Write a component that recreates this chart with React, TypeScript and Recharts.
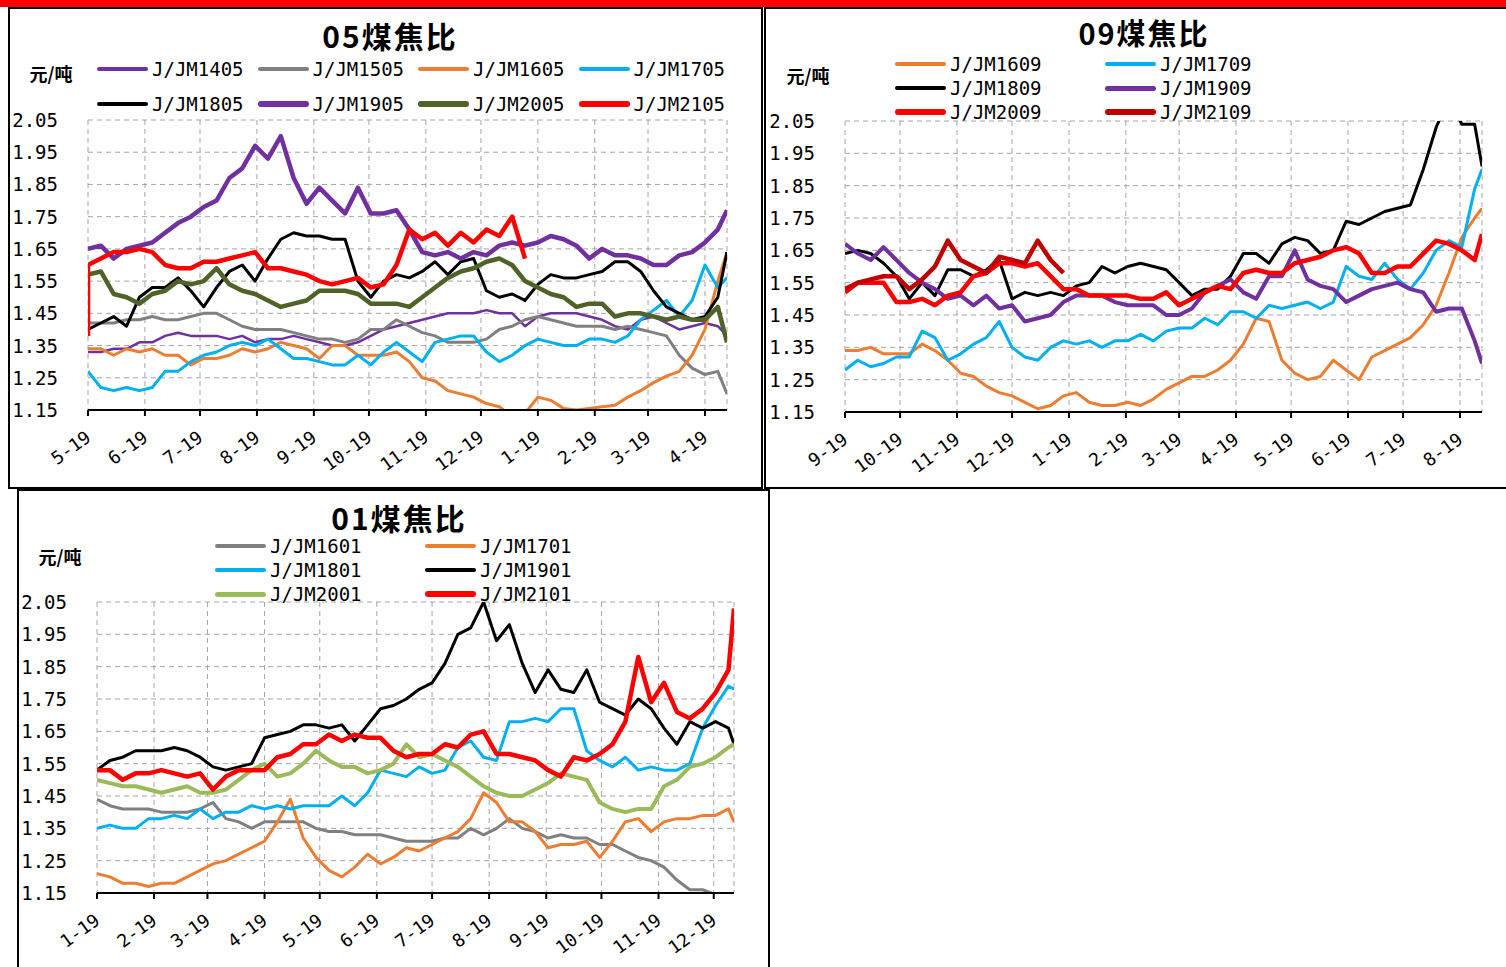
import React from "react";
import { LineChart, Line, XAxis, YAxis, CartesianGrid } from "recharts";

const MONO = "'DejaVu Sans Mono', monospace";
const CJK = "'Noto Sans CJK SC', sans-serif";

const Y_TICKS = [1.15, 1.25, 1.35, 1.45, 1.55, 1.65, 1.75, 1.85, 1.95, 2.05];

// ---------- 05 contracts (weekly samples from 5-19) ----------
const TICKS_05 = [0, 31, 61, 92, 123, 153, 184, 214, 245, 276, 305, 336];
const LABELS_05 = ["5-19", "6-19", "7-19", "8-19", "9-19", "10-19", "11-19", "12-19", "1-19", "2-19", "3-19", "4-19"];
const DAYS_05 = Array.from({ length: 50 }, (_, i) => i * 7).concat(348);

const JM1405 = [1.33, 1.33, 1.34, 1.34, 1.36, 1.36, 1.38, 1.39, 1.38, 1.38, 1.38, 1.37, 1.38, 1.36, 1.37, 1.37, 1.38, 1.37, 1.36, 1.35, 1.35, 1.36, 1.38, 1.4, 1.41, 1.42, 1.43, 1.44, 1.45, 1.45, 1.45, 1.46, 1.45, 1.45, 1.41, 1.44, 1.45, 1.45, 1.45, 1.44, 1.43, 1.41, 1.4, 1.43, 1.44, 1.42, 1.4, 1.41, 1.42, 1.41, 1.38];
const JM1505 = [1.42, 1.42, 1.42, 1.43, 1.43, 1.44, 1.43, 1.43, 1.44, 1.45, 1.45, 1.43, 1.41, 1.4, 1.4, 1.4, 1.39, 1.38, 1.37, 1.37, 1.36, 1.37, 1.4, 1.4, 1.43, 1.41, 1.39, 1.38, 1.36, 1.36, 1.36, 1.37, 1.4, 1.41, 1.43, 1.44, 1.43, 1.42, 1.41, 1.41, 1.41, 1.4, 1.41, 1.4, 1.39, 1.38, 1.32, 1.28, 1.26, 1.27, 1.2];
const JM1605 = [1.34, 1.34, 1.32, 1.34, 1.33, 1.34, 1.32, 1.32, 1.29, 1.31, 1.31, 1.32, 1.34, 1.33, 1.34, 1.36, 1.35, 1.34, 1.31, 1.35, 1.35, 1.32, 1.32, 1.32, 1.33, 1.3, 1.25, 1.24, 1.21, 1.2, 1.19, 1.17, 1.16, 1.13, 1.14, 1.19, 1.18, 1.155, 1.15, 1.155, 1.16, 1.165, 1.19, 1.21, 1.235, 1.255, 1.27, 1.32, 1.4, 1.55, 1.64];
const JM1705 = [1.27, 1.22, 1.21, 1.22, 1.21, 1.22, 1.27, 1.27, 1.3, 1.32, 1.33, 1.35, 1.36, 1.35, 1.37, 1.34, 1.31, 1.31, 1.3, 1.29, 1.29, 1.32, 1.29, 1.33, 1.36, 1.33, 1.3, 1.36, 1.37, 1.38, 1.38, 1.33, 1.3, 1.32, 1.35, 1.37, 1.36, 1.35, 1.35, 1.37, 1.37, 1.36, 1.38, 1.43, 1.46, 1.49, 1.44, 1.49, 1.6, 1.53, 1.56];
const JM1805 = [1.4, 1.42, 1.44, 1.41, 1.5, 1.53, 1.53, 1.56, 1.52, 1.47, 1.53, 1.58, 1.6, 1.55, 1.62, 1.68, 1.7, 1.69, 1.69, 1.68, 1.68, 1.55, 1.5, 1.55, 1.57, 1.56, 1.58, 1.61, 1.57, 1.61, 1.62, 1.52, 1.5, 1.51, 1.49, 1.54, 1.57, 1.56, 1.56, 1.57, 1.58, 1.61, 1.61, 1.58, 1.52, 1.47, 1.45, 1.43, 1.44, 1.5, 1.64];
const JM1905 = [1.65, 1.66, 1.62, 1.65, 1.66, 1.67, 1.7, 1.73, 1.75, 1.78, 1.8, 1.87, 1.9, 1.97, 1.93, 2.0, 1.87, 1.79, 1.84, 1.8, 1.76, 1.84, 1.76, 1.76, 1.77, 1.71, 1.64, 1.63, 1.64, 1.62, 1.64, 1.63, 1.66, 1.67, 1.66, 1.67, 1.69, 1.68, 1.66, 1.62, 1.65, 1.63, 1.63, 1.62, 1.6, 1.6, 1.63, 1.64, 1.67, 1.71, 1.77];
const JM2005 = [1.57, 1.58, 1.51, 1.5, 1.48, 1.51, 1.52, 1.55, 1.54, 1.55, 1.59, 1.54, 1.52, 1.51, 1.49, 1.47, 1.48, 1.49, 1.52, 1.52, 1.52, 1.51, 1.48, 1.48, 1.48, 1.47, 1.5, 1.53, 1.56, 1.58, 1.59, 1.61, 1.62, 1.6, 1.55, 1.53, 1.51, 1.5, 1.47, 1.48, 1.48, 1.44, 1.45, 1.45, 1.44, 1.43, 1.44, 1.43, 1.43, 1.47, 1.36];
const JM2105_OPEN = 1.38; // first print on 5-19, before the jump
const JM2105 = [1.6, 1.62, 1.64, 1.64, 1.65, 1.64, 1.6, 1.59, 1.59, 1.61, 1.61, 1.62, 1.63, 1.64, 1.59, 1.59, 1.58, 1.57, 1.55, 1.54, 1.55, 1.56, 1.53, 1.54, 1.6, 1.71, 1.68, 1.7, 1.66, 1.7, 1.67, 1.71, 1.69, 1.75, 1.62];

// ---------- 09 contracts (weekly samples from 9-19) ----------
const TICKS_09 = [0, 30, 61, 91, 122, 153, 182, 213, 243, 274, 304, 335];
const LABELS_09 = ["9-19", "10-19", "11-19", "12-19", "1-19", "2-19", "3-19", "4-19", "5-19", "6-19", "7-19", "8-19"];
const DAYS_09 = Array.from({ length: 50 }, (_, i) => i * 7).concat(347);

const JM1609 = [1.34, 1.34, 1.35, 1.33, 1.33, 1.33, 1.36, 1.34, 1.31, 1.27, 1.26, 1.23, 1.21, 1.2, 1.18, 1.16, 1.17, 1.2, 1.21, 1.18, 1.17, 1.17, 1.18, 1.17, 1.19, 1.22, 1.24, 1.26, 1.26, 1.28, 1.31, 1.36, 1.44, 1.43, 1.31, 1.27, 1.25, 1.26, 1.31, 1.28, 1.25, 1.32, 1.34, 1.36, 1.38, 1.42, 1.48, 1.58, 1.69, 1.75, 1.78];
const JM1709 = [1.28, 1.31, 1.29, 1.3, 1.32, 1.32, 1.4, 1.38, 1.31, 1.33, 1.36, 1.38, 1.43, 1.35, 1.32, 1.31, 1.35, 1.37, 1.36, 1.37, 1.35, 1.37, 1.37, 1.39, 1.37, 1.4, 1.41, 1.41, 1.44, 1.42, 1.46, 1.46, 1.44, 1.48, 1.47, 1.48, 1.49, 1.47, 1.49, 1.6, 1.57, 1.56, 1.61, 1.56, 1.53, 1.58, 1.65, 1.68, 1.66, 1.84, 1.9];
const JM1809 = [1.64, 1.65, 1.64, 1.61, 1.57, 1.5, 1.55, 1.51, 1.59, 1.59, 1.57, 1.59, 1.62, 1.5, 1.52, 1.51, 1.52, 1.51, 1.54, 1.55, 1.6, 1.58, 1.6, 1.61, 1.6, 1.59, 1.55, 1.51, 1.53, 1.53, 1.57, 1.64, 1.64, 1.61, 1.67, 1.69, 1.68, 1.64, 1.65, 1.74, 1.73, 1.75, 1.77, 1.78, 1.79, 1.9, 2.03, 2.12, 2.04, 2.04, 1.91];
const JM1909 = [1.67, 1.64, 1.62, 1.66, 1.62, 1.58, 1.55, 1.53, 1.5, 1.51, 1.48, 1.51, 1.47, 1.48, 1.43, 1.44, 1.45, 1.49, 1.51, 1.51, 1.51, 1.49, 1.48, 1.48, 1.48, 1.45, 1.45, 1.47, 1.52, 1.54, 1.56, 1.52, 1.5, 1.57, 1.57, 1.65, 1.56, 1.54, 1.53, 1.49, 1.51, 1.53, 1.54, 1.55, 1.53, 1.52, 1.46, 1.47, 1.47, 1.37, 1.3];
const JM2009 = [1.52, 1.55, 1.55, 1.55, 1.49, 1.49, 1.5, 1.48, 1.51, 1.52, 1.57, 1.58, 1.61, 1.61, 1.6, 1.61, 1.57, 1.53, 1.53, 1.51, 1.51, 1.51, 1.51, 1.5, 1.5, 1.52, 1.48, 1.5, 1.52, 1.54, 1.53, 1.58, 1.59, 1.58, 1.58, 1.61, 1.62, 1.63, 1.65, 1.66, 1.64, 1.58, 1.58, 1.6, 1.6, 1.64, 1.68, 1.67, 1.65, 1.62, 1.7];
const JM2109 = [1.53, 1.55, 1.56, 1.57, 1.57, 1.53, 1.56, 1.6, 1.68, 1.62, 1.6, 1.58, 1.63, 1.62, 1.61, 1.68, 1.62, 1.58];

// ---------- 01 contracts (weekly samples from 1-19) ----------
const TICKS_01 = [0, 31, 60, 91, 121, 152, 182, 213, 244, 274, 305, 335];
const LABELS_01 = ["1-19", "2-19", "3-19", "4-19", "5-19", "6-19", "7-19", "8-19", "9-19", "10-19", "11-19", "12-19"];
const DAYS_01 = Array.from({ length: 50 }, (_, i) => i * 7).concat(346);

const JM1601 = [1.44, 1.42, 1.41, 1.41, 1.41, 1.4, 1.4, 1.4, 1.41, 1.43, 1.38, 1.37, 1.35, 1.37, 1.37, 1.37, 1.37, 1.35, 1.34, 1.34, 1.33, 1.33, 1.33, 1.32, 1.31, 1.31, 1.31, 1.32, 1.32, 1.35, 1.33, 1.35, 1.38, 1.35, 1.34, 1.32, 1.33, 1.32, 1.32, 1.3, 1.3, 1.28, 1.26, 1.25, 1.23, 1.19, 1.16, 1.16, 1.145];
const JM1701 = [1.21, 1.2, 1.18, 1.18, 1.17, 1.18, 1.18, 1.2, 1.22, 1.24, 1.25, 1.27, 1.29, 1.31, 1.37, 1.44, 1.32, 1.26, 1.22, 1.2, 1.23, 1.27, 1.24, 1.26, 1.29, 1.28, 1.3, 1.32, 1.34, 1.38, 1.46, 1.43, 1.37, 1.37, 1.34, 1.29, 1.3, 1.3, 1.31, 1.26, 1.31, 1.37, 1.38, 1.34, 1.37, 1.38, 1.38, 1.39, 1.39, 1.41, 1.37];
const JM1801 = [1.35, 1.36, 1.35, 1.35, 1.38, 1.38, 1.39, 1.38, 1.41, 1.38, 1.4, 1.4, 1.42, 1.41, 1.42, 1.41, 1.42, 1.42, 1.42, 1.45, 1.42, 1.46, 1.53, 1.52, 1.51, 1.54, 1.52, 1.53, 1.6, 1.62, 1.57, 1.56, 1.68, 1.68, 1.69, 1.68, 1.72, 1.72, 1.59, 1.56, 1.54, 1.57, 1.53, 1.54, 1.53, 1.53, 1.55, 1.66, 1.73, 1.79, 1.78];
const JM1901 = [1.53, 1.56, 1.57, 1.59, 1.59, 1.59, 1.6, 1.59, 1.57, 1.54, 1.53, 1.54, 1.55, 1.63, 1.64, 1.65, 1.67, 1.67, 1.66, 1.67, 1.62, 1.67, 1.72, 1.73, 1.75, 1.78, 1.8, 1.86, 1.95, 1.97, 2.05, 1.93, 1.98, 1.86, 1.77, 1.84, 1.78, 1.77, 1.84, 1.74, 1.72, 1.7, 1.75, 1.72, 1.66, 1.61, 1.68, 1.66, 1.68, 1.66, 1.61];
const JM2001 = [1.5, 1.49, 1.48, 1.48, 1.47, 1.46, 1.47, 1.48, 1.46, 1.46, 1.47, 1.5, 1.53, 1.55, 1.51, 1.52, 1.55, 1.59, 1.56, 1.54, 1.54, 1.52, 1.53, 1.55, 1.61, 1.57, 1.58, 1.56, 1.54, 1.51, 1.48, 1.46, 1.45, 1.45, 1.47, 1.49, 1.52, 1.51, 1.5, 1.43, 1.41, 1.4, 1.41, 1.41, 1.48, 1.5, 1.54, 1.55, 1.57, 1.6, 1.61];
const JM2101 = [1.53, 1.53, 1.5, 1.52, 1.52, 1.53, 1.52, 1.51, 1.52, 1.47, 1.51, 1.53, 1.53, 1.53, 1.57, 1.58, 1.61, 1.61, 1.64, 1.62, 1.64, 1.63, 1.63, 1.59, 1.57, 1.58, 1.58, 1.61, 1.6, 1.64, 1.65, 1.58, 1.58, 1.57, 1.56, 1.53, 1.51, 1.57, 1.56, 1.58, 1.61, 1.68, 1.88, 1.74, 1.8, 1.71, 1.69, 1.72, 1.77, 1.84, 2.03];

type Item = {
  name: string;
  color: string;
  width: number;
  legendWidth: number;
  values: number[];
  open?: number; // optional first print at day 0
  lx: number; // legend line left
  ly: number; // legend row centre
};

type PanelProps = {
  box: { left: number; top: number; width: number; height: number };
  plot: { x0: number; x1: number; y0: number; y1: number };
  xMax: number;
  days: number[];
  ticks: number[];
  labels: string[];
  items: Item[];
  title: string;
  titleAt: [number, number];
  titleSize: number;
  unitAt: [number, number];
};

const YW = 80;
const XH = 70;
const MT = 20;
const MR = 10;

function Panel({ box, plot, xMax, days, ticks, labels, items, title, titleAt, titleSize, unitAt }: PanelProps) {
  const rows = days.map((day, i) => {
    const r: Record<string, number | null> = { day };
    items.forEach((s, k) => {
      r["s" + k] = i < s.values.length ? s.values[i] : null;
    });
    return r;
  });
  if (items.some((s) => s.open !== undefined)) {
    const first: Record<string, number | null> = { day: days[0] };
    items.forEach((s, k) => {
      first["s" + k] = s.open !== undefined ? s.open : null;
    });
    rows.unshift(first);
  }

  const w = plot.x1 - plot.x0 + YW + MR;
  const h = plot.y1 - plot.y0 + MT + XH;
  const axisY = MT + (plot.y1 - plot.y0);

  const xTick = (p: any) => {
    const idx = ticks.indexOf(p.payload.value);
    return (
      <text
        transform={`translate(${p.x + 4},${axisY + 30}) rotate(-36)`}
        textAnchor="end"
        fontFamily={MONO}
        fontSize={18}
        fill="#000"
      >
        {labels[idx]}
      </text>
    );
  };

  const yTick = (p: any) => (
    <text x={YW - 30} y={p.y} textAnchor="end" dominantBaseline="central" fontFamily={MONO} fontSize={19} fill="#000">
      {Number(p.payload.value).toFixed(2)}
    </text>
  );

  return (
    <>
      <div
        style={{
          position: "absolute",
          left: box.left,
          top: box.top,
          width: box.width,
          height: box.height,
          border: "2px solid #000",
          boxSizing: "border-box",
        }}
      />
      <div
        style={{
          position: "absolute",
          left: titleAt[0],
          top: titleAt[1],
          transform: "translate(-50%, -50%)",
          fontFamily: CJK,
          fontWeight: 700,
          fontSize: titleSize,
          lineHeight: titleSize + "px",
          whiteSpace: "nowrap",
          letterSpacing: 2,
        }}
      >
        {title}
      </div>
      <div
        style={{
          position: "absolute",
          left: unitAt[0],
          top: unitAt[1],
          transform: "translate(-50%, -50%)",
          fontFamily: CJK,
          fontWeight: 700,
          fontSize: 18,
          whiteSpace: "nowrap",
        }}
      >
        元/吨
      </div>
      {items.map((s) => (
        <React.Fragment key={s.name + "-lg"}>
          <div
            style={{
              position: "absolute",
              left: s.lx,
              top: s.ly - s.legendWidth / 2,
              width: 51,
              height: s.legendWidth,
              background: s.color,
              borderRadius: s.legendWidth / 2,
            }}
          />
          <div
            style={{
              position: "absolute",
              left: s.lx + 55,
              top: s.ly - 10,
              height: 20,
              lineHeight: "20px",
              fontFamily: MONO,
              fontSize: 19,
              whiteSpace: "nowrap",
            }}
          >
            {s.name}
          </div>
        </React.Fragment>
      ))}
      <div style={{ position: "absolute", left: plot.x0 - YW, top: plot.y0 - MT }}>
        <LineChart width={w} height={h} data={rows} margin={{ top: MT, right: MR, bottom: 0, left: 0 }}>
          <CartesianGrid stroke="#A6A6A6" strokeDasharray="5 4" />
          <XAxis
            dataKey="day"
            type="number"
            domain={[0, xMax]}
            ticks={ticks}
            interval={0}
            height={XH}
            tick={xTick}
            tickSize={6}
            axisLine={{ stroke: "#000", strokeWidth: 2 }}
            tickLine={{ stroke: "#000", strokeWidth: 2 }}
            allowDataOverflow
          />
          <YAxis
            type="number"
            domain={[1.15, 2.05]}
            ticks={Y_TICKS}
            interval={0}
            width={YW}
            tick={yTick}
            tickSize={0}
            tickMargin={0}
            axisLine={false}
            tickLine={false}
            allowDataOverflow
          />
          {items.map((s, k) => (
            <Line
              key={s.name}
              type="linear"
              dataKey={"s" + k}
              name={s.name}
              stroke={s.color}
              strokeWidth={s.width}
              dot={false}
              activeDot={false}
              strokeLinejoin="round"
              isAnimationActive={false}
            />
          ))}
        </LineChart>
      </div>
    </>
  );
}

const P1X = (k: number) => 97 + 160.5 * k;

const ITEMS_05: Item[] = [
  { name: "J/JM1405", color: "#7030A0", width: 2.5, legendWidth: 4, values: JM1405, lx: P1X(0), ly: 69 },
  { name: "J/JM1505", color: "#808080", width: 3, legendWidth: 4, values: JM1505, lx: P1X(1), ly: 69 },
  { name: "J/JM1605", color: "#ED7D31", width: 3, legendWidth: 4, values: JM1605, lx: P1X(2), ly: 69 },
  { name: "J/JM1705", color: "#00B0F0", width: 3, legendWidth: 4, values: JM1705, lx: P1X(3), ly: 69 },
  { name: "J/JM1805", color: "#000000", width: 3, legendWidth: 4, values: JM1805, lx: P1X(0), ly: 104 },
  { name: "J/JM1905", color: "#7030A0", width: 4.5, legendWidth: 6, values: JM1905, lx: P1X(1), ly: 104 },
  { name: "J/JM2005", color: "#4F6228", width: 4.5, legendWidth: 6, values: JM2005, lx: P1X(2), ly: 104 },
  { name: "J/JM2105", color: "#FF0000", width: 4.5, legendWidth: 6, values: JM2105, open: JM2105_OPEN, lx: P1X(3), ly: 104 },
];

const ITEMS_09: Item[] = [
  { name: "J/JM1609", color: "#ED7D31", width: 3, legendWidth: 4, values: JM1609, lx: 895, ly: 64 },
  { name: "J/JM1709", color: "#00B0F0", width: 3, legendWidth: 4, values: JM1709, lx: 1105, ly: 64 },
  { name: "J/JM1809", color: "#000000", width: 3, legendWidth: 4, values: JM1809, lx: 895, ly: 88 },
  { name: "J/JM1909", color: "#7030A0", width: 4, legendWidth: 5, values: JM1909, lx: 1105, ly: 88 },
  { name: "J/JM2009", color: "#FF0000", width: 4.5, legendWidth: 6, values: JM2009, lx: 895, ly: 112 },
  { name: "J/JM2109", color: "#C00000", width: 4.5, legendWidth: 6, values: JM2109, lx: 1105, ly: 112 },
];

const ITEMS_01: Item[] = [
  { name: "J/JM1601", color: "#808080", width: 3, legendWidth: 4, values: JM1601, lx: 215, ly: 546 },
  { name: "J/JM1701", color: "#ED7D31", width: 3, legendWidth: 4, values: JM1701, lx: 425, ly: 546 },
  { name: "J/JM1801", color: "#00B0F0", width: 3, legendWidth: 4, values: JM1801, lx: 215, ly: 570 },
  { name: "J/JM1901", color: "#000000", width: 3, legendWidth: 4, values: JM1901, lx: 425, ly: 570 },
  { name: "J/JM2001", color: "#9BBB59", width: 4, legendWidth: 5, values: JM2001, lx: 215, ly: 594 },
  { name: "J/JM2101", color: "#FF0000", width: 4.5, legendWidth: 6, values: JM2101, lx: 425, ly: 594 },
];

export default function App() {
  return (
    <div
      style={{
        position: "absolute",
        left: 0,
        top: 0,
        width: 1506,
        height: 967,
        background: "#fff",
        overflow: "hidden",
      }}
    >
      <div style={{ position: "absolute", left: 0, top: 0, width: 1506, height: 7, background: "#FF0000" }} />
      <Panel
        box={{ left: 8, top: 7, width: 755, height: 482 }}
        plot={{ x0: 88, x1: 727, y0: 120, y1: 410 }}
        xMax={348}
        days={DAYS_05}
        ticks={TICKS_05}
        labels={LABELS_05}
        items={ITEMS_05}
        title="05煤焦比"
        titleAt={[390, 35]}
        titleSize={30}
        unitAt={[51, 73]}
      />
      <Panel
        box={{ left: 764, top: 7, width: 760, height: 482 }}
        plot={{ x0: 845, x1: 1482, y0: 121, y1: 412 }}
        xMax={347}
        days={DAYS_09}
        ticks={TICKS_09}
        labels={LABELS_09}
        items={ITEMS_09}
        title="09煤焦比"
        titleAt={[1144, 32]}
        titleSize={29}
        unitAt={[808, 75]}
      />
      <Panel
        box={{ left: 17, top: 489, width: 753, height: 500 }}
        plot={{ x0: 97, x1: 734, y0: 602, y1: 893 }}
        xMax={346}
        days={DAYS_01}
        ticks={TICKS_01}
        labels={LABELS_01}
        items={ITEMS_01}
        title="01煤焦比"
        titleAt={[399, 517]}
        titleSize={30}
        unitAt={[60, 556]}
      />
    </div>
  );
}
